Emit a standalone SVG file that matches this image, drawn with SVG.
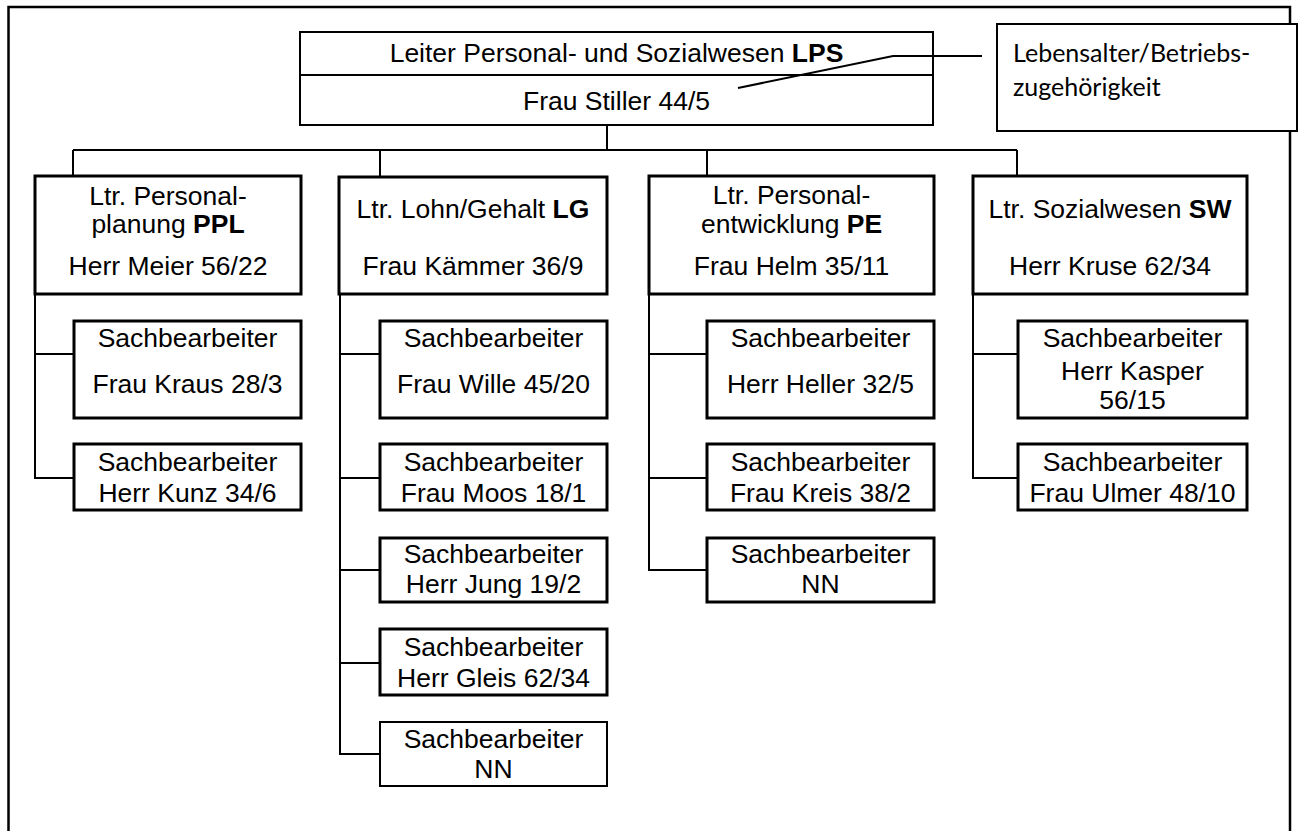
<svg xmlns="http://www.w3.org/2000/svg" width="1302" height="831" viewBox="0 0 1302 831">
<style>
text{font-family:"Liberation Sans",Arial,sans-serif;font-size:26.5px;fill:#000;text-anchor:middle}
.b{font-weight:bold}
.leg{font-family:Lato,"Open Sans",sans-serif;font-size:25px;text-anchor:start}
.frame{fill:none;stroke:#000;stroke-width:2.5}
.top{fill:#fff;stroke:#000;stroke-width:2}
.l2{fill:#fff;stroke:#000;stroke-width:3}
.l3{fill:#fff;stroke:#000;stroke-width:3}
.thin{fill:#fff;stroke:#000;stroke-width:2}
.c{fill:none;stroke:#000;stroke-width:2}
</style>
<rect class="frame" x="8.5" y="7" width="1281.5" height="840"/>
<g id="lps">
<rect class="top" x="300" y="32" width="633" height="93"/>
<line class="c" x1="300" y1="75" x2="933" y2="75"/>
<text x="616.5" y="62">Leiter Personal- und Sozialwesen <tspan class="b">LPS</tspan></text>
<text x="616.5" y="110">Frau Stiller 44/5</text>
</g>
<g id="legend">
<rect class="top" x="997" y="24" width="300" height="107"/>
<text class="leg" x="1013" y="62">Lebensalter/Betriebs-</text>
<text class="leg" x="1013" y="96">zugehörigkeit</text>
</g>
<g id="ppl">
<rect class="l2" x="35" y="176" width="266" height="118"/>
<text x="168" y="205">Ltr. Personal-</text>
<text x="168" y="233">planung <tspan class="b">PPL</tspan></text>
<text x="168" y="275">Herr Meier 56/22</text>
</g>
<g id="lg">
<rect class="l2" x="339" y="177" width="268" height="117"/>
<text x="473" y="218">Ltr. Lohn/Gehalt <tspan class="b">LG</tspan></text>
<text x="473" y="275">Frau Kämmer 36/9</text>
</g>
<g id="pe">
<rect class="l2" x="649" y="176" width="285" height="118"/>
<text x="791.5" y="204">Ltr. Personal-</text>
<text x="791.5" y="233">entwicklung <tspan class="b">PE</tspan></text>
<text x="791.5" y="275">Frau Helm 35/11</text>
</g>
<g id="sw">
<rect class="l2" x="973" y="176" width="274" height="118"/>
<text x="1110" y="218">Ltr. Sozialwesen <tspan class="b">SW</tspan></text>
<text x="1110" y="275">Herr Kruse 62/34</text>
</g>
<g id="kraus">
<rect class="l3" x="74" y="321" width="227" height="97"/>
<text x="187.5" y="347">Sachbearbeiter</text>
<text x="187.5" y="393">Frau Kraus 28/3</text>
</g>
<g id="kunz">
<rect class="l3" x="74" y="444" width="227" height="66"/>
<text x="187.5" y="471">Sachbearbeiter</text>
<text x="187.5" y="502">Herr Kunz 34/6</text>
</g>
<g id="wille">
<rect class="l3" x="380" y="321" width="227" height="97"/>
<text x="493.5" y="347">Sachbearbeiter</text>
<text x="493.5" y="393">Frau Wille 45/20</text>
</g>
<g id="moos">
<rect class="l3" x="380" y="444" width="227" height="66"/>
<text x="493.5" y="471">Sachbearbeiter</text>
<text x="493.5" y="502">Frau Moos 18/1</text>
</g>
<g id="jung">
<rect class="l3" x="380" y="538" width="227" height="64"/>
<text x="493.5" y="563">Sachbearbeiter</text>
<text x="493.5" y="593">Herr Jung 19/2</text>
</g>
<g id="gleis">
<rect class="l3" x="380" y="629" width="227" height="66"/>
<text x="493.5" y="656">Sachbearbeiter</text>
<text x="493.5" y="687">Herr Gleis 62/34</text>
</g>
<g id="lg-nn">
<rect class="thin" x="380" y="722" width="227" height="64"/>
<text x="493.5" y="748">Sachbearbeiter</text>
<text x="493.5" y="778">NN</text>
</g>
<g id="heller">
<rect class="l3" x="707" y="321" width="227" height="97"/>
<text x="820.5" y="347">Sachbearbeiter</text>
<text x="820.5" y="393">Herr Heller 32/5</text>
</g>
<g id="kreis">
<rect class="l3" x="707" y="444" width="227" height="66"/>
<text x="820.5" y="471">Sachbearbeiter</text>
<text x="820.5" y="502">Frau Kreis 38/2</text>
</g>
<g id="pe-nn">
<rect class="l3" x="707" y="538" width="227" height="64"/>
<text x="820.5" y="563">Sachbearbeiter</text>
<text x="820.5" y="593">NN</text>
</g>
<g id="kasper">
<rect class="l3" x="1018" y="321" width="229" height="97"/>
<text x="1132.5" y="347">Sachbearbeiter</text>
<text x="1132.5" y="380">Herr Kasper</text>
<text x="1132.5" y="409">56/15</text>
</g>
<g id="ulmer">
<rect class="l3" x="1018" y="444" width="229" height="66"/>
<text x="1132.5" y="471">Sachbearbeiter</text>
<text x="1132.5" y="502">Frau Ulmer 48/10</text>
</g>
<g id="connectors">
<line class="c" x1="607" y1="125" x2="607" y2="150"/>
<line class="c" x1="73" y1="150" x2="1017" y2="150"/>
<line class="c" x1="73" y1="150" x2="73" y2="176"/>
<line class="c" x1="380" y1="150" x2="380" y2="176"/>
<line class="c" x1="707" y1="150" x2="707" y2="176"/>
<line class="c" x1="1017" y1="150" x2="1017" y2="176"/>
<polyline class="c" points="982,56 893,56 738,88"/>
<polyline class="c" points="35,294 35,478 74,478"/>
<line class="c" x1="35" y1="354" x2="74" y2="354"/>
<polyline class="c" points="340,294 340,754 380,754"/>
<line class="c" x1="340" y1="354" x2="380" y2="354"/>
<line class="c" x1="340" y1="478" x2="380" y2="478"/>
<line class="c" x1="340" y1="570" x2="380" y2="570"/>
<line class="c" x1="340" y1="663" x2="380" y2="663"/>
<polyline class="c" points="649,294 649,570 707,570"/>
<line class="c" x1="649" y1="354" x2="707" y2="354"/>
<line class="c" x1="649" y1="478" x2="707" y2="478"/>
<polyline class="c" points="973,294 973,478 1018,478"/>
<line class="c" x1="973" y1="354" x2="1018" y2="354"/>
</g>
</svg>
